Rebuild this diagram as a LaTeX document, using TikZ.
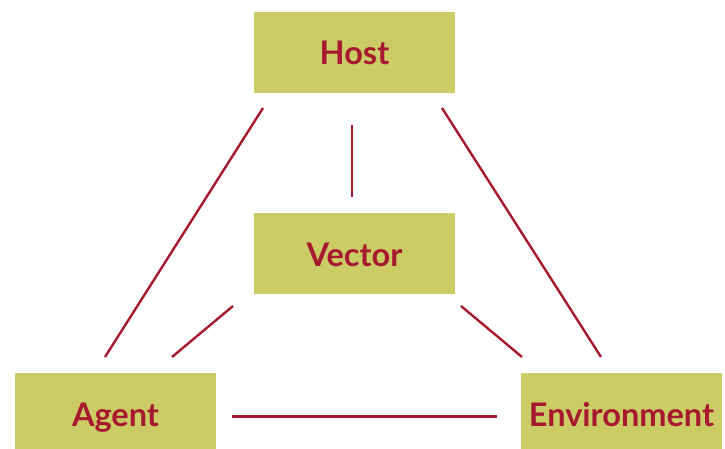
\documentclass[tikz,border=0pt]{standalone}
\usepackage{fontspec}
\setmainfont{Lato}
\definecolor{boxfill}{HTML}{CBCC66}
\definecolor{darkred}{HTML}{A6192E}
\begin{document}
\begin{tikzpicture}[x=1pt,y=-1pt,
  box/.style={fill=boxfill,draw=none,minimum width=201pt,minimum height=81pt,inner sep=0pt,
    text=darkred,font=\bfseries\fontsize{32.5}{38}\selectfont,text height=25pt,text depth=0pt},
  link/.style={draw=darkred,line width=2.4pt}]
\useasboundingbox (0,0) rectangle (725,449);
\begin{scope}
\clip (0,0) rectangle (725,449);
\node[box] (host) at (354.5,52.5) {Host};
\node[box] (vector) at (354.5,253.5) {Vector};
\node[box] (agent) at (115.5,413.5) {Agent};
\node[box] (env) at (621.5,413.5) {Environment};
\end{scope}
\coordinate (ha1) at (263,108); \coordinate (ha2) at (105,357);
\coordinate (he1) at (442,108); \coordinate (he2) at (601,357);
\coordinate (hv1) at (352,125); \coordinate (hv2) at (352,197);
\coordinate (va1) at (233,306); \coordinate (va2) at (172,357);
\coordinate (ve1) at (461,306); \coordinate (ve2) at (522,357);
\coordinate (ae1) at (232,416.5); \coordinate (ae2) at (497,416.5);
\draw[link] (ha1) -- (ha2);
\draw[link] (he1) -- (he2);
\draw[link] (hv1) -- (hv2);
\draw[link] (va1) -- (va2);
\draw[link] (ve1) -- (ve2);
\draw[link] (ae1) -- (ae2);
\end{tikzpicture}
\end{document}
